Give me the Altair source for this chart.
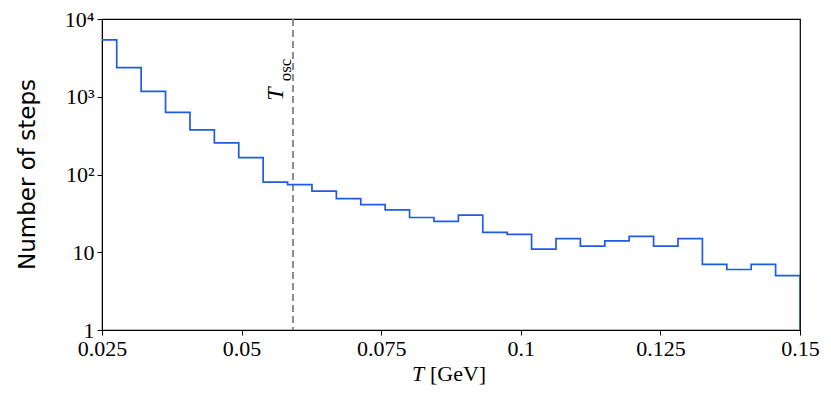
import altair as alt
import pandas as pd
import numpy as np

# histogram counts per bin
counts = [5400, 2375, 1170, 628, 374, 255, 165, 80, 74, 61, 49, 41, 35, 28, 25, 30,
          18, 17, 11, 15, 12, 14, 16, 12, 15, 7, 6, 7, 5]
edge_first = 0.02327
edge_last = 0.15
T_osc = 0.0592

x_ticks = [0.025, 0.05, 0.075, 0.1, 0.125, 0.15]
y_ticks = [1, 10, 100, 1000, 10000]

edges = np.linspace(edge_first, edge_last, len(counts) + 1)
xs = list(edges[:-1]) + [edges[-1], edges[-1]]
ys = counts + [counts[-1], 1]
df = pd.DataFrame({"T": xs, "n": ys, "o": list(range(len(xs)))})

W, H = 698, 311
serif = "Liberation Serif"

xscale = alt.Scale(domain=[0.025, 0.15], nice=False, zero=False)
yscale = alt.Scale(type="log", domain=[1, 10000], nice=False)

line = alt.Chart(df).mark_line(interpolate="step-after", color="#1f5be3",
                               strokeWidth=1.7, clip=True).encode(
    x=alt.X("T:Q", scale=xscale,
            axis=alt.Axis(values=x_ticks, format="~g", title=None, grid=False,
                          labelFont=serif, labelFontSize=22, labelColor="black",
                          labelFlush=False, labelOverlap=False, labelPadding=3,
                          tickSize=5, tickColor="black", domainColor="black")),
    y=alt.Y("n:Q", scale=yscale,
            axis=alt.Axis(values=y_ticks, grid=False, title="Number of steps",
                          labelExpr="datum.value==1?'1':datum.value==10?'10':datum.value==100?'10²':datum.value==1000?'10³':'10⁴'",
                          labelFont=serif, labelFontSize=22, labelColor="black",
                          labelPadding=3, tickSize=5, tickColor="black", domainColor="black",
                          titleFont="DejaVu Sans", titleFontSize=23, titleFontWeight="normal",
                          titleColor="black", titleX=-75, titleY=155, titleAngle=270,
                          titleBaseline="middle", titleAlign="center")),
    order="o:Q",
)

vdf = pd.DataFrame({"T": [T_osc]})
rule = alt.Chart(vdf).mark_rule(color="#8c8c8c", strokeDash=[7, 4], strokeWidth=2).encode(
    x=alt.X("T:Q", scale=xscale))

t_label = alt.Chart(vdf).mark_text(text="T", font=serif, fontStyle="italic", fontSize=24,
                                   angle=270, align="center", baseline="middle",
                                   color="black", dy=-17).encode(
    x=alt.X("T:Q", scale=xscale), y=alt.value(75))
osc_label = alt.Chart(vdf).mark_text(text="osc", font=serif, fontSize=17,
                                     angle=270, align="center", baseline="middle",
                                     color="black", dy=-7).encode(
    x=alt.X("T:Q", scale=xscale), y=alt.value(51))

xt1 = alt.Chart(vdf).mark_text(text="T", font=serif, fontStyle="italic", fontSize=22,
                               align="center", baseline="middle", color="black").encode(
    x=alt.value(316), y=alt.value(355))
xt2 = alt.Chart(vdf).mark_text(text="[GeV]", font=serif, fontSize=22,
                               align="left", baseline="middle", color="black").encode(
    x=alt.value(328), y=alt.value(355))

chart = alt.layer(rule, line, t_label, osc_label, xt1, xt2).properties(
    width=W, height=H,
    background="white",
    autosize=alt.AutoSizeParams(type="none"),
    padding={"left": 94, "top": 11, "right": 23, "bottom": 55},
).configure_view(stroke="black", strokeWidth=1.2)

chart.save("out.html", embed_options={"renderer": "svg", "actions": False})
